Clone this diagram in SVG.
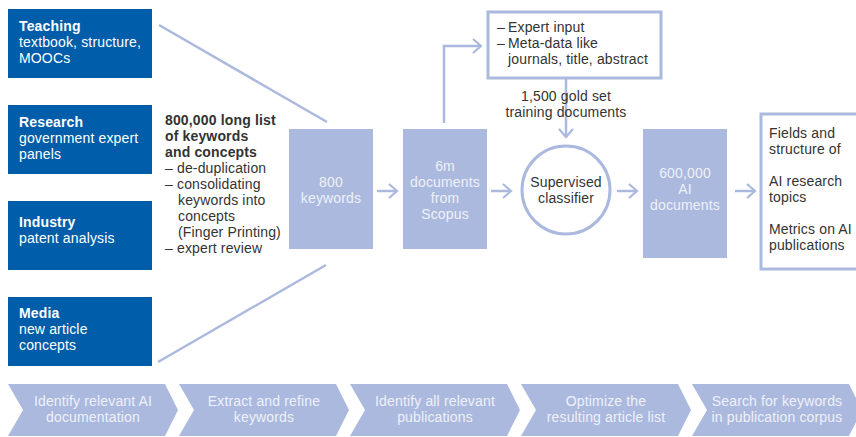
<svg xmlns="http://www.w3.org/2000/svg" width="856" height="437" viewBox="0 0 856 437">
<defs>
<style>
text{font-family:"Liberation Sans",Arial,sans-serif;font-size:14px;letter-spacing:0.15px}
.src{fill:#005da9}
.srct{fill:#ffffff}
.b{font-weight:bold}
.dark{fill:#333333}
.lt{fill:#eef1f9;text-anchor:middle}
.fill{fill:#abb9de}
.ol{fill:#ffffff;stroke:#abb9de;stroke-width:3}
.ln{fill:none;stroke:#abb9de;stroke-width:2.5}
.mid{text-anchor:middle}
</style>
<marker id="ah" markerWidth="12" markerHeight="16" refX="10" refY="8" orient="auto" markerUnits="userSpaceOnUse">
<path d="M2,1 L10,8 L2,15" fill="none" stroke="#abb9de" stroke-width="2.2"/>
</marker>
</defs>
<rect width="856" height="437" fill="#ffffff"/>

<g id="connectors">
<line class="ln" x1="159" y1="25" x2="327" y2="122"/>
<line class="ln" x1="158" y1="362" x2="326" y2="265"/>
<line class="ln" x1="377" y1="191" x2="397" y2="191" marker-end="url(#ah)"/>
<line class="ln" x1="491" y1="191" x2="511" y2="191" marker-end="url(#ah)"/>
<polyline class="ln" points="444,123 444,46 481,46" marker-end="url(#ah)"/>
<line class="ln" x1="566" y1="79" x2="566" y2="137" marker-end="url(#ah)"/>
<line class="ln" x1="617" y1="191" x2="637" y2="191" marker-end="url(#ah)"/>
<line class="ln" x1="735" y1="191" x2="755" y2="191" marker-end="url(#ah)"/>
</g>

<g id="teaching">
<rect class="src" x="8" y="9" width="144" height="69"/>
<text class="srct" x="19" y="31"><tspan class="b">Teaching</tspan><tspan x="19" dy="16">textbook, structure,</tspan><tspan x="19" dy="16">MOOCs</tspan></text>
</g>
<g id="research">
<rect class="src" x="8" y="105" width="144" height="69"/>
<text class="srct" x="19" y="127"><tspan class="b">Research</tspan><tspan x="19" dy="16">government expert</tspan><tspan x="19" dy="16">panels</tspan></text>
</g>
<g id="industry">
<rect class="src" x="8" y="201" width="144" height="69"/>
<text class="srct" x="19" y="227"><tspan class="b">Industry</tspan><tspan x="19" dy="16">patent analysis</tspan></text>
</g>
<g id="media">
<rect class="src" x="8" y="297" width="144" height="69"/>
<text class="srct" x="19" y="318"><tspan class="b">Media</tspan><tspan x="19" dy="16">new article</tspan><tspan x="19" dy="16">concepts</tspan></text>
</g>

<g id="longlist">
<text class="dark" x="165" y="125"><tspan class="b">800,000 long list</tspan><tspan class="b" x="165" dy="16">of keywords</tspan><tspan class="b" x="165" dy="16">and concepts</tspan><tspan x="165" dy="16">– de-duplication</tspan><tspan x="165" dy="16">– consolidating</tspan><tspan x="178" dy="16">keywords into</tspan><tspan x="178" dy="16">concepts</tspan><tspan x="178" dy="16">(Finger Printing)</tspan><tspan x="165" dy="16">– expert review</tspan></text>
</g>

<g id="keywords">
<rect class="fill" x="289" y="129" width="84" height="120"/>
<text class="lt" x="331" y="187">800<tspan x="331" dy="16">keywords</tspan></text>
</g>
<g id="scopus">
<rect class="fill" x="403" y="129" width="84" height="120"/>
<text class="lt" x="445" y="171">6m<tspan x="445" dy="16">documents</tspan><tspan x="445" dy="16">from</tspan><tspan x="445" dy="16">Scopus</tspan></text>
</g>
<g id="expert">
<rect class="ol" x="488" y="12" width="173" height="66"/>
<text class="dark" x="497" y="32">–<tspan x="508">Expert input</tspan><tspan x="497" dy="16">–</tspan><tspan x="508">Meta-data like</tspan><tspan x="508" dy="16">journals, title, abstract</tspan></text>
</g>
<g id="goldset">
<text class="dark mid" x="566" y="101">1,500 gold set<tspan x="566" dy="16">training documents</tspan></text>
</g>
<g id="classifier">
<circle class="ol" cx="566" cy="190" r="44"/>
<text class="dark mid" x="566" y="187">Supervised<tspan x="566" dy="16">classifier</tspan></text>
</g>
<g id="aidocs">
<rect class="fill" x="643" y="129" width="84" height="129"/>
<text class="lt" x="685" y="178">600,000<tspan x="685" dy="16">AI</tspan><tspan x="685" dy="16">documents</tspan></text>
</g>
<g id="results">
<rect class="ol" x="761" y="114" width="100" height="155"/>
<text class="dark" x="769" y="138">Fields and<tspan x="769" dy="16">structure of</tspan><tspan x="769" dy="32">AI research</tspan><tspan x="769" dy="16">topics</tspan><tspan x="769" dy="32">Metrics on AI</tspan><tspan x="769" dy="16">publications</tspan></text>
</g>

<g id="steps">
<path class="fill" d="M8,384 H165 L178,410 L165,436 H8 L23,410 Z"/>
<text class="lt" x="93" y="406">Identify relevant AI<tspan x="93" dy="16">documentation</tspan></text>
<path class="fill" d="M179,384 H336 L349,410 L336,436 H179 L194,410 Z"/>
<text class="lt" x="264" y="406">Extract and refine<tspan x="264" dy="16">keywords</tspan></text>
<path class="fill" d="M350,384 H507 L520,410 L507,436 H350 L365,410 Z"/>
<text class="lt" x="435" y="406">Identify all relevant<tspan x="435" dy="16">publications</tspan></text>
<path class="fill" d="M521,384 H678 L691,410 L678,436 H521 L536,410 Z"/>
<text class="lt" x="606" y="406">Optimize the<tspan x="606" dy="16">resulting article list</tspan></text>
<path class="fill" d="M692,384 H849 L862,410 L849,436 H692 L707,410 Z"/>
<text class="lt" x="777" y="406">Search for keywords<tspan x="777" dy="16">in publication corpus</tspan></text>
</g>
</svg>
